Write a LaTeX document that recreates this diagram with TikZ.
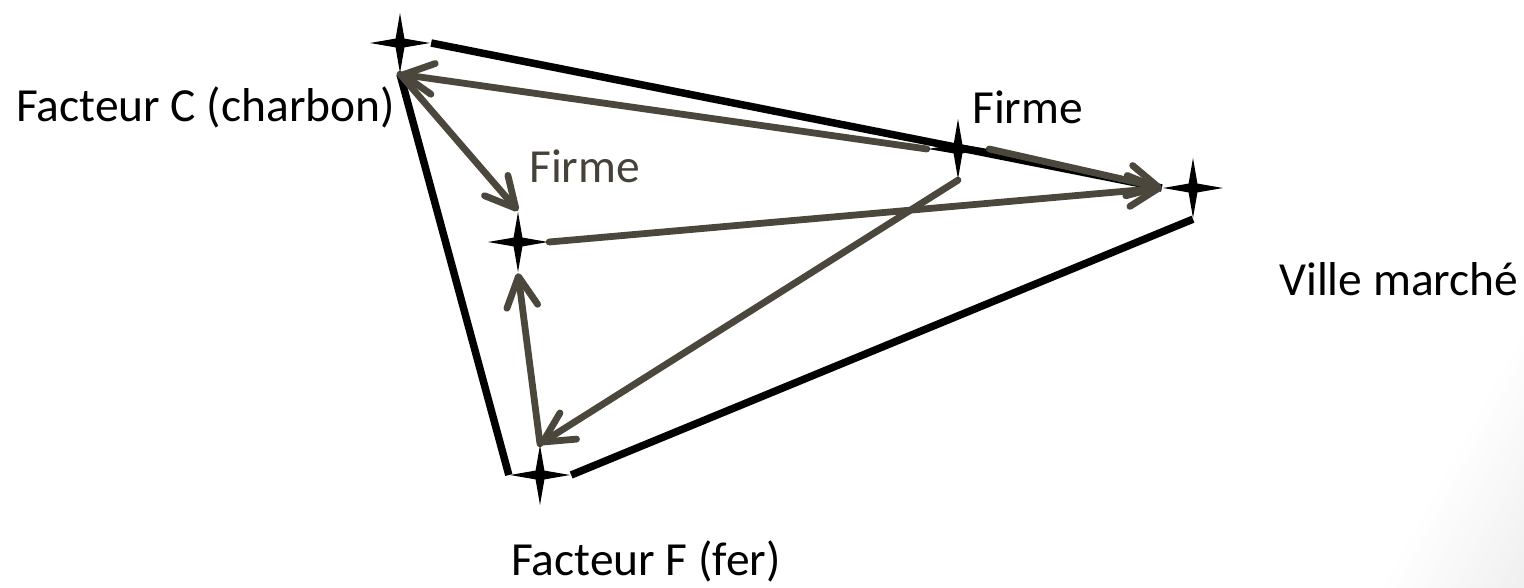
\documentclass[tikz,border=0pt]{standalone}
\usepackage{fontspec}
\setmainfont{Carlito}
\usetikzlibrary{arrows.meta,shapes.geometric}
\pgfdeclarelayer{backdrop}
\pgfdeclarelayer{lines}
\pgfsetlayers{backdrop,lines,main}
\definecolor{flowgray}{RGB}{75,71,61}
\definecolor{labelgray}{RGB}{70,66,58}
\begin{document}
\begin{tikzpicture}[x=1pt,y=-1pt,
  site/.style={star, star points=4, star point ratio=4.8, minimum size=60pt,
               inner sep=0pt, fill=black, draw=none},
  edge/.style={line width=7.5pt, black},
  flow/.style={line width=6.8pt, flowgray, line cap=round,
               -{Straight Barb[length=30pt,width=31pt,round]}},
  lbl/.style={inner sep=0pt, anchor=base west, font=\fontsize{47.5}{57}\selectfont}
]
\useasboundingbox (0,0) rectangle (1524,588);

% locations
\node[site] (C)  at (400,43)  {};
\node[site] (f1) at (518,242) {};
\node[site] (f2) at (958,149) {};
\node[site] (V)  at (1193,188) {};
\node[site] (F)  at (540,475) {};

% labels
\node[lbl] (lC)  at (16,122)  {Facteur C (charbon)};
\node[lbl] (lf2) at (972,124) {Firme};
\node[lbl, text=labelgray] (lf1) at (529,183) {Firme};
\node[lbl] (lV)  at (1279,295) {Ville marché};
\node[lbl] (lF)  at (511,575) {Facteur F (fer)};

% faint shadow in the lower right corner
\begin{pgfonlayer}{backdrop}
  \foreach \k in {0,...,24}{
    \pgfmathsetmacro\dd{\k*123.4/25}
    \pgfmathsetmacro\yd{333+\dd/0.484}
    \pgfmathsetmacro\xd{1524+(\dd-123.4)/0.875}
    \pgfmathsetmacro\g{6*(\k+1)/25}
    \fill[black!\g] (\xd,588) -- (1524,\yd) -- (1524,588) -- cycle;
  }
\end{pgfonlayer}

% triangle of locations and transport flows
\begin{pgfonlayer}{lines}
  \draw[edge] (C.east) -- (V.west);
  \draw[edge] (C.south) -- (F.west);
  \draw[edge] (F.east) -- (V.south);

  \draw[flow] (f2.west) -- (C.south);
  \draw[flow] (C.south) -- (f1.north);
  \draw[flow] (f1.east) -- (V.west);
  \draw[flow] (f2.east) -- (V.west);
  \draw[flow] (F.north) -- (f1.south);
  \draw[flow] (f2.south) -- (F.north);
\end{pgfonlayer}
\end{tikzpicture}
\end{document}
